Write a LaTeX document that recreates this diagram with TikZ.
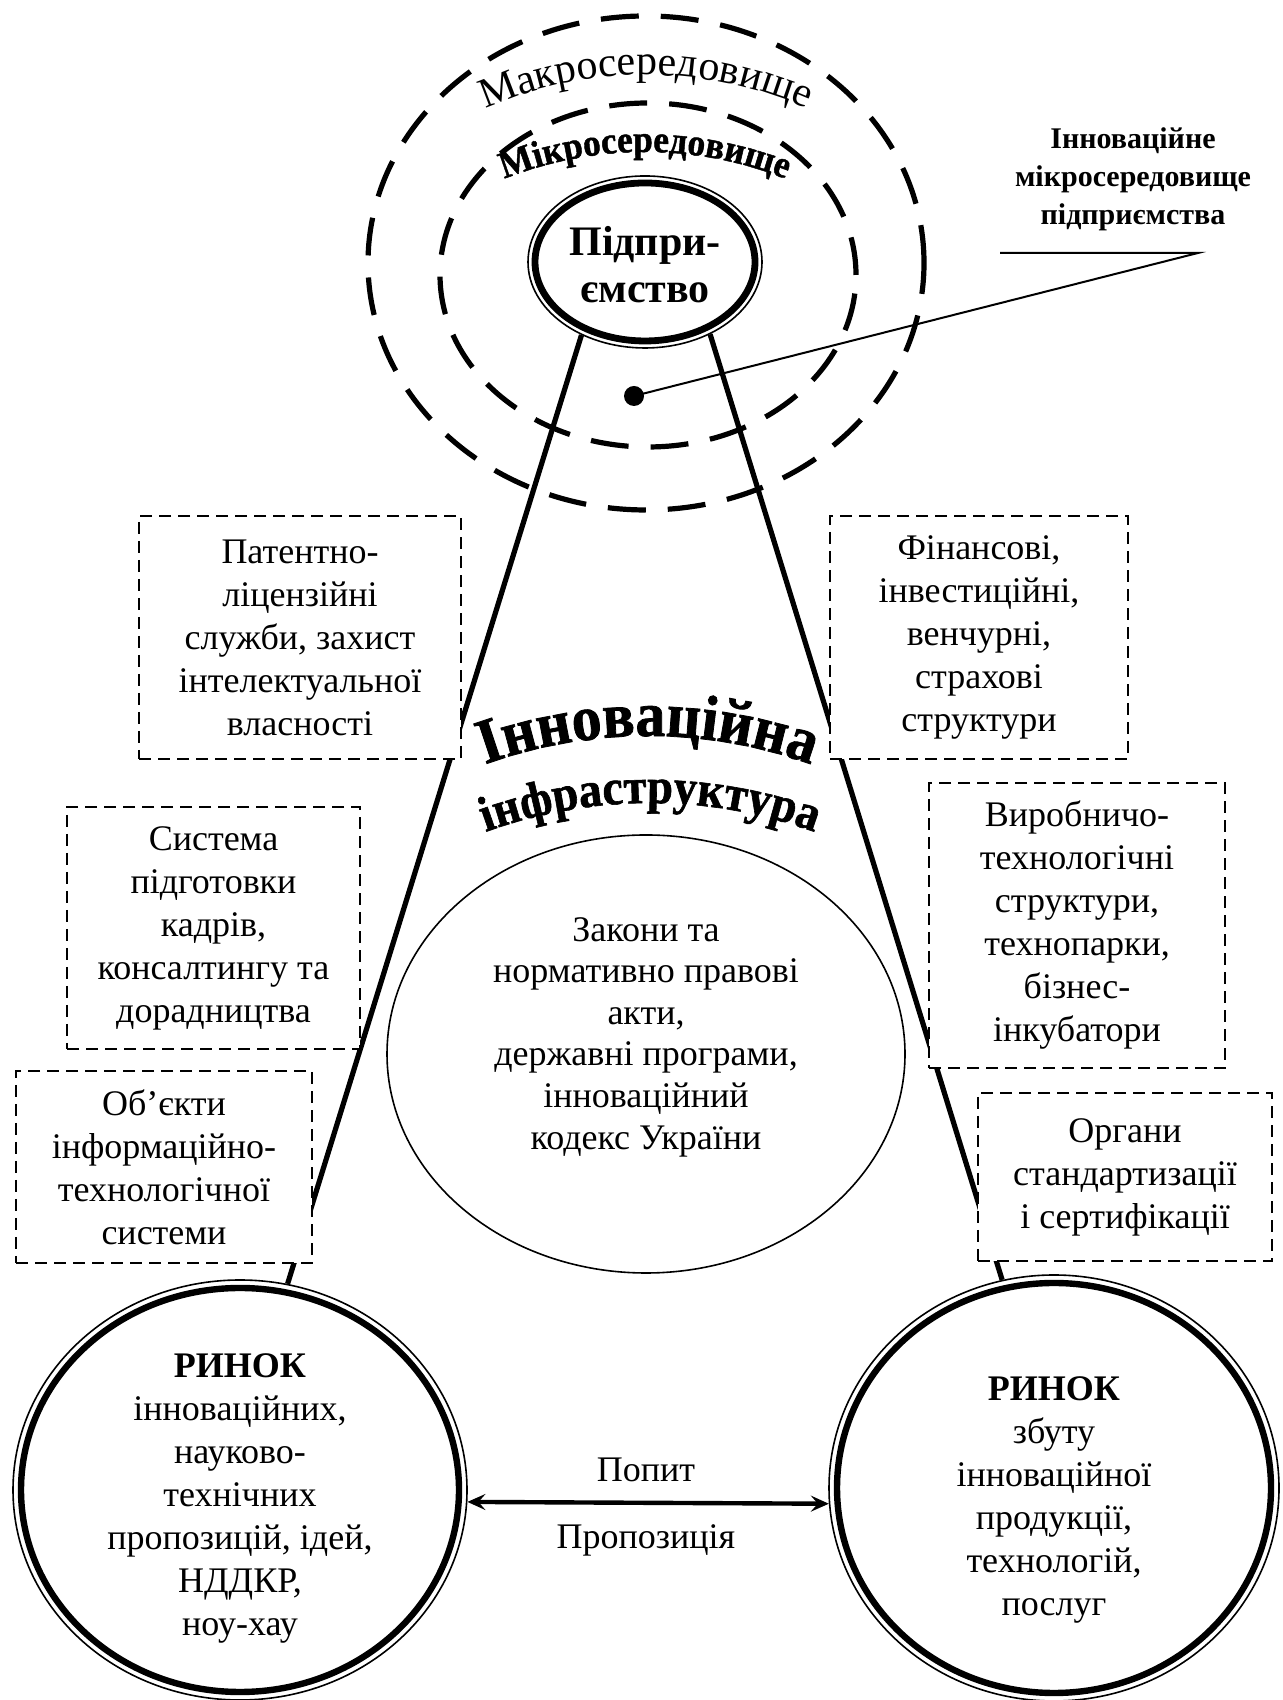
\documentclass[tikz,border=0pt]{standalone}
\usepackage{fontspec}
\setmainfont{Liberation Serif}
\newfontfamily\archfont{Liberation Serif Bold}[FakeBold=1.2,FakeStretch=0.93]
\usetikzlibrary{arrows.meta,shapes.geometric,decorations.text}

\begin{document}
\begin{tikzpicture}[x=0.5pt,y=0.5pt,
  font=\fontsize{18}{21.5}\selectfont,
  dashbox/.style={draw, line width=0.8pt, dash pattern=on 6pt off 3.5pt, fill=white, align=center, inner sep=0pt},
  thinring/.style={draw, ellipse, line width=0.8pt, inner sep=0pt},
  ringtext/.style={align=center, inner sep=0pt},
  envdash/.style={line width=2.6pt, dash pattern=on 19pt off 11pt},
  spoke/.style={line width=2.6pt}]
\useasboundingbox (0,0) rectangle (1283,1700);
% Environment rings
\draw[envdash] (646,1437) ellipse [x radius=278, y radius=247];
\draw[envdash] (648,1425) ellipse [x radius=208, y radius=172];
% Enterprise
\node[thinring, fill=white, minimum width=117pt, minimum height=86pt] (ent) at (645,1438) {};
\draw[line width=3.4pt] (ent.center) ellipse [x radius=110, y radius=79];
\node[ringtext, font=\bfseries\fontsize{21}{23.5}\selectfont] (enttext) at (645,1435) {Підпри-\\ємство};
% Markets
\node[thinring, minimum width=227pt, minimum height=210pt] (rl) at (240,210) {};
\draw[line width=3.2pt] (rl.center) ellipse [x radius=219, y radius=202];
\node[ringtext] (rltext) at (240,202) {\textbf{РИНОК}\\інноваційних,\\науково-\\технічних\\пропозицій, ідей,\\НДДКР,\\ноу-хау};
\node[thinring, minimum width=225pt, minimum height=213pt] (rr) at (1054,212) {};
\draw[line width=3.2pt] (rr.center) ellipse [x radius=217, y radius=205];
\node[ringtext] (rrtext) at (1054,200) {\textbf{РИНОК}\\збуту\\інноваційної\\продукції,\\технологій,\\послуг};
% Infrastructure lines
\draw[spoke] (ent.229) -- (rl.77);
\draw[spoke] (ent.312) -- (rr.104);
% Dashed boxes
\node[dashbox, minimum width=161pt, minimum height=121.5pt] (patent) at (300,1062.5) {Патентно-\\ліцензійні\\служби, захист\\інтелектуальної\\власності};
\node[dashbox, minimum width=149pt, minimum height=121.5pt] (finance) at (979,1062.5) {Фінансові,\\інвестиційні,\\венчурні,\\страхові\\структури};
\node[dashbox, minimum width=146.5pt, minimum height=121pt] (training) at (213.5,772) {Система\\підготовки\\кадрів,\\консалтингу та\\дорадництва};
\node[dashbox, minimum width=148pt, minimum height=142.5pt] (production) at (1077,774.5) {Виробничо-\\технологічні\\структури,\\технопарки,\\бізнес-\\інкубатори};
\node[dashbox, minimum width=148pt, minimum height=96pt] (infotech) at (164,533) {Об’єкти\\інформаційно-\\технологічної\\системи};
\node[dashbox, minimum width=147pt, minimum height=84pt] (standards) at (1125,523) {Органи\\стандартизації\\і сертифікації};
% Laws
\node[thinring, minimum width=259pt, minimum height=219pt] (law) at (646,646) {};
\node[ringtext, font=\fontsize{18}{20.8}\selectfont] (lawtext) at (646,663) {Закони та\\нормативно правові\\акти,\\державні програми,\\інноваційний\\кодекс України};
% Demand and supply
\draw[line width=2.2pt, {Stealth[length=9pt,width=8pt,inset=3.5pt]}-{Stealth[length=9pt,width=8pt,inset=3.5pt]}] (rl.-3) -- (rr.184);
\node (demand) at (646,230) {Попит};
\node (offer) at (646,160) {Пропозиція};
% Pointer to micro-environment
\node[circle, fill, inner sep=0pt, minimum size=10pt] (dot) at (634,1304) {};
\coordinate (bend) at (1198,1447);
\coordinate (tail) at (1000,1447);
\draw[line width=1pt] (dot.center) -- (bend) -- (tail);
\node[align=center, font=\bfseries\fontsize{15}{19}\selectfont] (note) at (1133,1521) {Інноваційне\\мікросередовище\\підприємства};
% Curved titles
\path[decorate, decoration={text along path, text align=center, text={|\fontsize{21}{21}\selectfont|Макросередовище}}] (339.6,1482.1) arc[start angle=140, end angle=40, radius=400];
\path[decorate, decoration={text along path, text align=center, text={|\archfont\fontsize{19}{19}\selectfont|Мікросередовище}}] (353.9,1412.3) arc[start angle=140, end angle=40, radius=380];
\path[decorate, decoration={text along path, text align=center, text={|\archfont\fontsize{32}{32}\selectfont|Інноваційна}}] (339.5,851.7) arc[start angle=130, end angle=50, radius=480];
\path[decorate, decoration={text along path, text align=center, text={|\archfont\fontsize{25}{25}\selectfont|інфраструктура}}] (341.5,784.7) arc[start angle=130, end angle=50, radius=480];
\end{tikzpicture}
\end{document}
